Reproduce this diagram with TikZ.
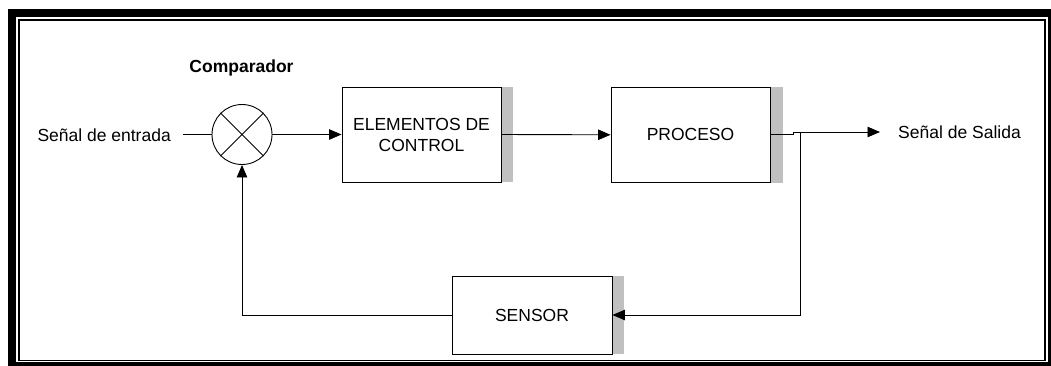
\documentclass[tikz,border=0pt]{standalone}
\usepackage{fontspec}
\setmainfont{Liberation Sans}
\usetikzlibrary{arrows.meta}
\definecolor{shadowgray}{RGB}{192,192,192}
\begin{document}
\begin{tikzpicture}[x=1pt,y=-1pt,
  every node/.style={font=\fontsize{17.5}{21}\selectfont, inner sep=0pt},
  blockbox/.style={draw=black, line width=0.9pt, fill=white,
    minimum width=159pt, minimum height=95pt, align=center},
  flow/.style={line width=0.9pt},
  tip/.style={-{Triangle[length=12.5pt,width=10.5pt]}},
  shadowbar/.style={fill=shadowgray, draw=none}
]
\useasboundingbox (0,0) rectangle (1051,365);

% double frame
\draw[line width=8pt] (12,13) rectangle (1052,366);
\draw[line width=1.8pt] (19,20) rectangle (1045,360.5);

% comparator
\node[circle, draw=black, line width=0.9pt, minimum size=60pt] (comp) at (242,134.5) {};
\draw[line width=0.8pt] (comp.north west) -- (comp.south east);
\draw[line width=0.8pt] (comp.north east) -- (comp.south west);
\node[anchor=base, font=\fontsize{17.5}{21}\selectfont\bfseries] (complbl) at (241.5,72) {Comparador};

% blocks
\node[blockbox] (ctrl) at (421.5,134.5) {ELEMENTOS DE\\CONTROL};
\node[blockbox] (proc) at (690.5,134.8) {PROCESO};
\node[blockbox, minimum width=160pt, minimum height=78pt] (sens) at (532,315) {SENSOR};

% side shadows
\fill[shadowbar] ([xshift=0.45pt]ctrl.north east) rectangle ([xshift=12pt]ctrl.south east);
\fill[shadowbar] ([xshift=0.45pt]proc.north east) rectangle ([xshift=13pt]proc.south east);
\fill[shadowbar] ([xshift=0.45pt]sens.north east) rectangle ([xshift=12pt]sens.south east);

% signal labels
\node[anchor=base east] (inlbl) at (171,141) {Señal de entrada};
\node[anchor=base west] (outlbl) at (898,138.5) {Señal de Salida};

% connection points
\coordinate (in) at (183,134.5);
\coordinate (jog) at (793,134.8);
\coordinate (split) at (800,132);
\coordinate (out) at (880,132);

% forward path
\draw[flow] (in) -- (comp.west);
\draw[flow,tip] (comp.east) -- (ctrl.west);
\draw[flow,tip] (ctrl.east) -- (proc.west);
\draw[flow] (proc.east) -- (jog) |- (split);
\draw[flow,tip] (split) -- (out);

% feedback path
\draw[flow,tip] (split) |- (sens.east);
\draw[flow,tip] (sens.west) -| (comp.south);
\end{tikzpicture}
\end{document}
